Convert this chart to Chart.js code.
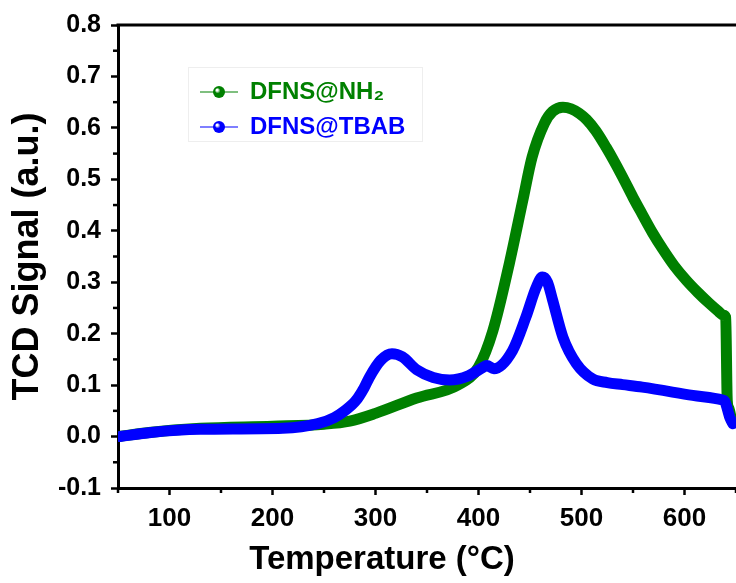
<!DOCTYPE html>
<html>
<head>
<meta charset="utf-8">
<script src="https://cdn.jsdelivr.net/npm/chart.js@4/dist/chart.umd.min.js"></script>
<style>
  body { margin: 0; background: #fff; }
  #wrap { width: 736px; height: 583px; }
</style>
</head>
<body>
<div id="wrap"><canvas id="tpd" width="736" height="583"></canvas></div>
<script>
// TPD profiles
const nh2Temp = [51, 80, 130, 200, 250, 275, 300, 340, 380, 400, 414, 430, 443, 452, 464, 472, 482, 490, 498, 505, 514, 524, 532, 540, 550, 559, 569, 579, 590, 602, 613, 624, 632, 638, 640, 641.5, 643, 646];
const nh2Signal = [0.0, 0.008, 0.016, 0.02, 0.024, 0.03, 0.045, 0.075, 0.1, 0.135, 0.206, 0.337, 0.459, 0.543, 0.609, 0.632, 0.640, 0.637, 0.628, 0.616, 0.594, 0.562, 0.534, 0.504, 0.465, 0.432, 0.396, 0.364, 0.332, 0.303, 0.280, 0.259, 0.245, 0.236, 0.232, 0.07, 0.055, 0.03];

const tbabTemp = [52, 82, 130, 210, 244, 260, 270, 281, 289, 294, 305, 316, 326, 340, 356, 372, 390, 404, 408, 415, 433, 446, 456, 462, 467, 472, 482, 495, 511, 525, 540, 559, 608, 637, 639, 644, 647];
const tbabSignal = [0.0, 0.008, 0.014, 0.016, 0.025, 0.037, 0.05, 0.07, 0.095, 0.115, 0.148, 0.161, 0.155, 0.13, 0.115, 0.11, 0.118, 0.134, 0.138, 0.132, 0.167, 0.232, 0.29, 0.31, 0.3, 0.265, 0.193, 0.142, 0.112, 0.105, 0.101, 0.096, 0.08, 0.071, 0.069, 0.037, 0.025];

const seriesNames = ["DFNS@NH\u2082", "DFNS@TBAB"];
const seriesColors = ["#008000", "#0000ff"];

const xTicks = [100, 200, 300, 400, 500, 600];
const xMinor = [50, 150, 250, 350, 450, 550, 650];
const yTicks = [-0.1, 0.0, 0.1, 0.2, 0.3, 0.4, 0.5, 0.6, 0.7, 0.8];
const yMinor = [-0.05, 0.05, 0.15, 0.25, 0.35, 0.45, 0.55, 0.65, 0.75];

const FONT = "'Liberation Sans', Arial, sans-serif";

// legend marker: short line with a shaded ball
function legendMarker(color) {
  const c = document.createElement("canvas");
  c.width = 38; c.height = 14;
  const g = c.getContext("2d");
  g.strokeStyle = color;
  g.lineWidth = 1.2;
  g.beginPath(); g.moveTo(0, 7); g.lineTo(38, 7); g.stroke();
  const grad = g.createRadialGradient(17, 5, 1, 19, 7, 6);
  grad.addColorStop(0, "#ffffff");
  grad.addColorStop(0.35, color);
  grad.addColorStop(1, color);
  g.fillStyle = grad;
  g.beginPath(); g.arc(19, 7, 6, 0, Math.PI * 2); g.fill();
  return c;
}

const toPoints = (xs, ys) => xs.map((x, i) => ({ x: x, y: ys[i] }));

// minor ticks, top frame line, legend placement, off-centre x title
const extras = {
  id: "extras",
  afterLayout(chart) {
    const lg = chart.legend;
    const w = lg.width, h = lg.height;
    lg.left = 189; lg.top = 69;
    lg.right = lg.left + w; lg.bottom = lg.top + h;

    const xs = chart.scales.x;
    if (!xs._shifted) {
      const orig = xs.drawTitle;
      xs.drawTitle = function () {
        const r = this.right;
        this.right = r - 90;
        orig.call(this);
        this.right = r;
      };
      xs._shifted = true;
    }
  },
  afterDraw(chart) {
    const ctx = chart.ctx;
    const { left, right, top, bottom } = chart.chartArea;
    const xs = chart.scales.x, ys = chart.scales.y;
    ctx.save();
    ctx.strokeStyle = "#000";
    ctx.lineWidth = 2.5;
    xMinor.forEach(v => {
      const px = xs.getPixelForValue(v);
      ctx.beginPath(); ctx.moveTo(px, bottom); ctx.lineTo(px, bottom + 5); ctx.stroke();
    });
    yMinor.forEach(v => {
      const py = ys.getPixelForValue(v);
      ctx.beginPath(); ctx.moveTo(left, py); ctx.lineTo(left - 5, py); ctx.stroke();
    });
    ctx.lineWidth = 3;
    ctx.beginPath(); ctx.moveTo(left - 1.5, top); ctx.lineTo(right, top); ctx.stroke();
    ctx.strokeStyle = "#eeeeee";
    ctx.lineWidth = 1;
    ctx.strokeRect(188.5, 67.5, 234, 74);
    ctx.restore();
  }
};

new Chart(document.getElementById("tpd"), {
  type: "line",
  data: {
    datasets: [
      {
        label: seriesNames[0],
        data: toPoints(nh2Temp, nh2Signal),
        borderColor: seriesColors[0],
        backgroundColor: seriesColors[0],
        borderWidth: 11,
        pointRadius: 0,
        pointStyle: legendMarker(seriesColors[0]),
        cubicInterpolationMode: "monotone",
        borderCapStyle: "round",
        borderJoinStyle: "round",
        order: 2
      },
      {
        label: seriesNames[1],
        data: toPoints(tbabTemp, tbabSignal),
        borderColor: seriesColors[1],
        backgroundColor: seriesColors[1],
        borderWidth: 11,
        pointRadius: 0,
        pointStyle: legendMarker(seriesColors[1]),
        cubicInterpolationMode: "monotone",
        borderCapStyle: "round",
        borderJoinStyle: "round",
        order: 1
      }
    ]
  },
  options: {
    responsive: false,
    animation: false,
    events: [],
    layout: { padding: { top: 25, right: 0, left: 0, bottom: 0 } },
    plugins: {
      tooltip: { enabled: false },
      legend: {
        position: "chartArea",
        align: "start",
        labels: {
          usePointStyle: true,
          pointStyleWidth: 38,
          padding: 11,
          font: { family: FONT, size: 24, weight: "bold", lineHeight: 1.1 },
          sort: (a, b) => a.datasetIndex - b.datasetIndex,
          generateLabels(chart) {
            const items = Chart.defaults.plugins.legend.labels.generateLabels(chart);
            items.forEach(it => { it.fontColor = seriesColors[it.datasetIndex]; });
            return items;
          }
        }
      }
    },
    scales: {
      x: {
        type: "linear",
        min: 50,
        max: 650,
        afterBuildTicks: s => { s.ticks = xTicks.map(v => ({ value: v })); },
        afterFit: s => { s.height = 95; },
        grid: { drawOnChartArea: false, drawTicks: true, tickLength: 7, tickWidth: 2.5, tickColor: "#000" },
        border: { display: true, color: "#000", width: 3 },
        ticks: {
          color: "#000",
          padding: 8,
          maxRotation: 0,
          font: { family: FONT, size: 26, weight: "bold" },
          callback: v => String(v)
        },
        title: {
          display: true,
          text: "Temperature (\u00B0C)",
          color: "#000",
          font: { family: FONT, size: 33, weight: "bold", lineHeight: 1.2 },
          padding: { top: 0, bottom: 3 }
        }
      },
      y: {
        min: -0.1,
        max: 0.8,
        afterBuildTicks: s => { s.ticks = yTicks.map(v => ({ value: v })); },
        afterFit: s => { s.width = 118; },
        grid: { drawOnChartArea: false, drawTicks: true, tickLength: 7, tickWidth: 2.5, tickColor: "#000" },
        border: { display: true, color: "#000", width: 3 },
        ticks: {
          color: "#000",
          padding: 10,
          font: { family: FONT, size: 25, weight: "bold" },
          callback: v => Number(v).toFixed(1)
        },
        title: {
          display: true,
          text: "TCD Signal (a.u.)",
          color: "#000",
          font: { family: FONT, size: 36, weight: "bold", lineHeight: 1.2 },
          padding: { top: 6, bottom: 0 }
        }
      }
    }
  },
  plugins: [extras]
});
</script>
</body>
</html>
